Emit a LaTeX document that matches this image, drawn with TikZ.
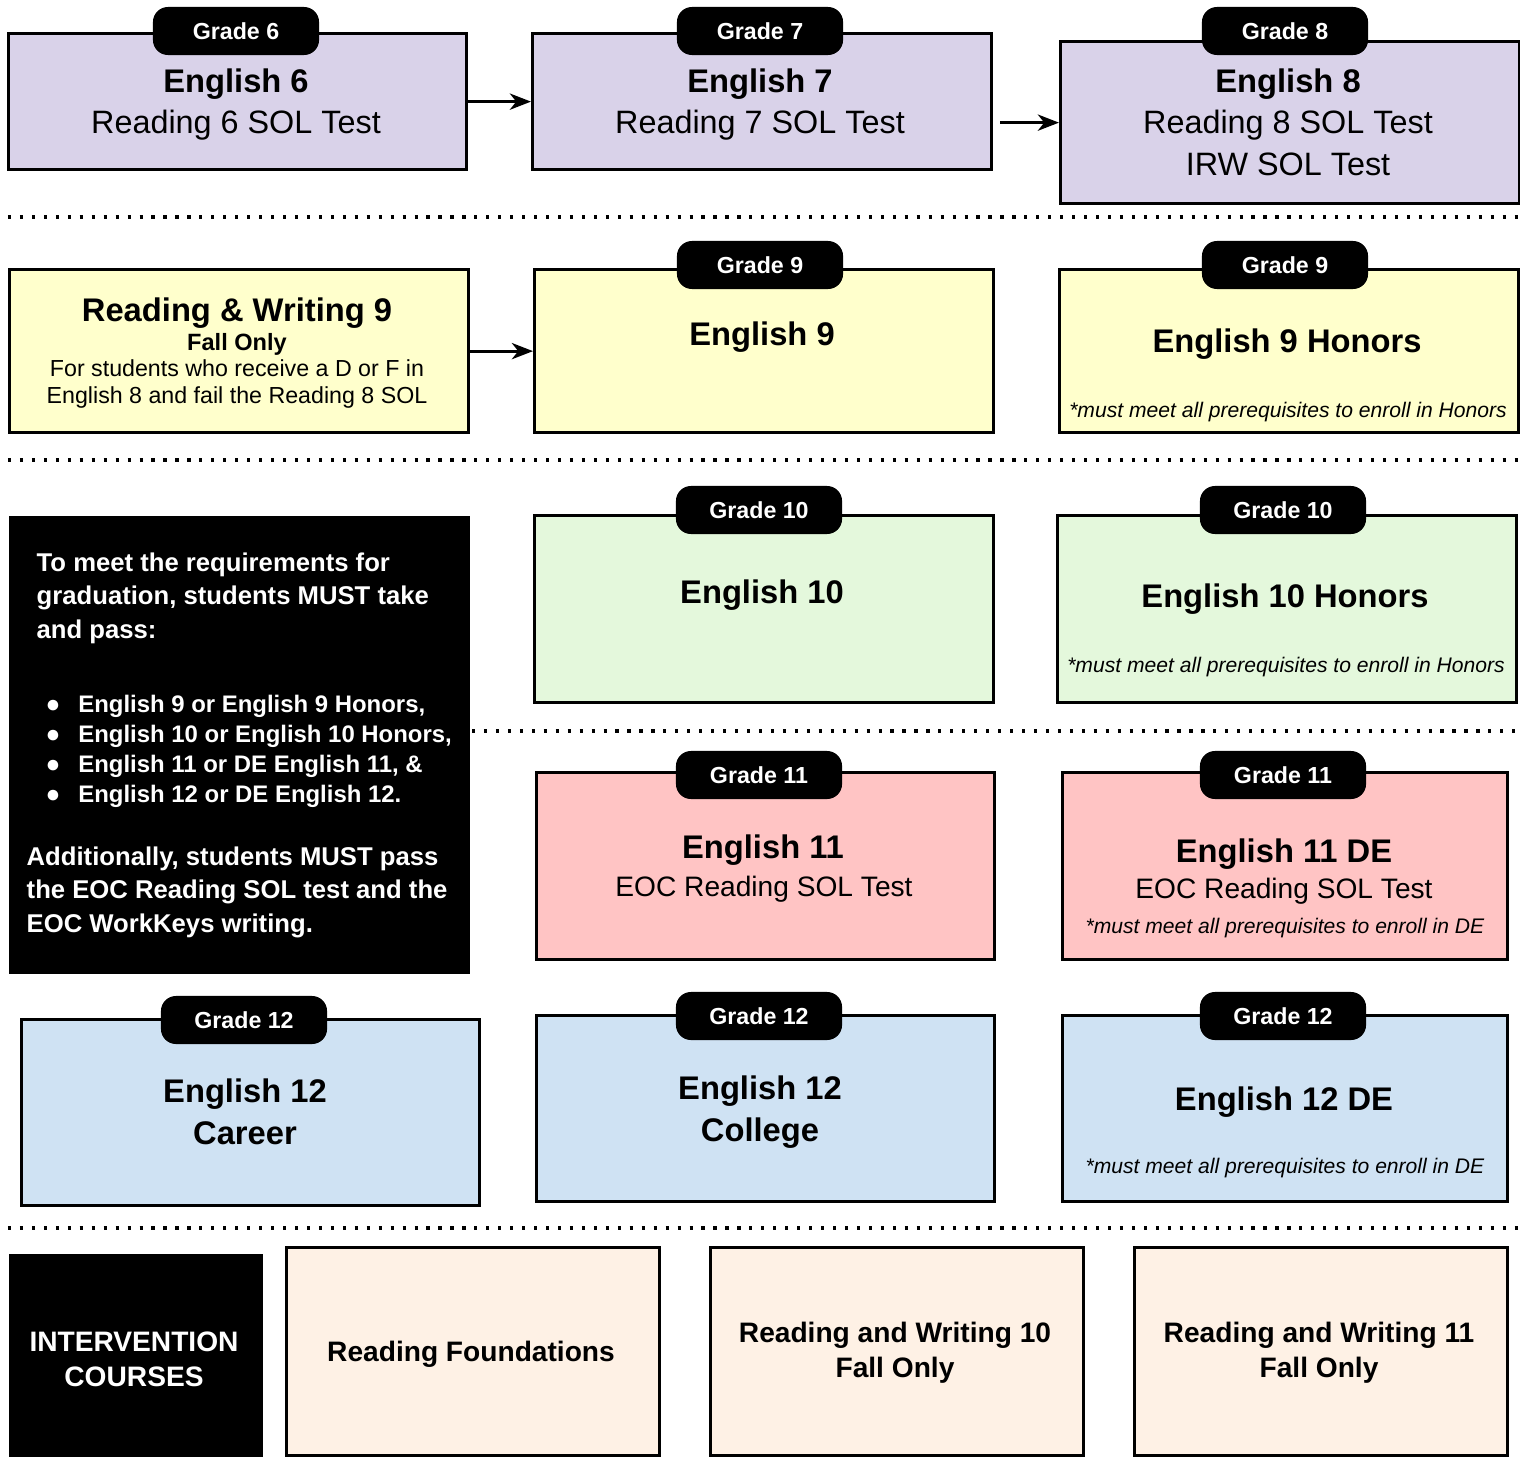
\documentclass[tikz,border=0pt]{standalone}
\usepackage{fontspec}
\setmainfont{Liberation Sans}
\usepackage{tikz}
\usetikzlibrary{positioning,arrows,arrows.meta}
\tikzset{>={Stealth[length=6pt,width=4.6pt,inset=1.8pt]}}

\definecolor{lav}{HTML}{D9D2E9}
\definecolor{yel}{HTML}{FFFFCC}
\definecolor{grn}{HTML}{E4F8DC}
\definecolor{pnk}{HTML}{FFC4C4}
\definecolor{blu}{HTML}{CFE2F3}
\definecolor{crm}{HTML}{FEF1E5}

\begin{document}
\begin{tikzpicture}[x=0.01cm,y=-0.01cm,
  course/.style={draw,line width=0.9pt,anchor=north west,inner sep=0pt},
  grade/.style={fill=black,text=white,rounded corners=1.5mm,minimum width=1.66cm,minimum height=0.48cm,inner sep=0pt,font=\fontsize{6.6}{8}\selectfont\bfseries},
  ttl/.style={anchor=base,align=center,font=\fontsize{9.3}{11.7}\selectfont\bfseries},
  sub/.style={anchor=base,align=center,font=\fontsize{9.2}{11.7}\selectfont},
  eoc/.style={anchor=base,font=\fontsize{8}{10}\selectfont},
  note/.style={anchor=base,font=\fontsize{6}{7}\selectfont\itshape},
  small/.style={anchor=base,align=center,font=\fontsize{6.6}{7.6}\selectfont},
  req/.style={anchor=base west,align=left,inner sep=0pt,text=white,font=\fontsize{7.3}{9.5}\selectfont\bfseries},
  interv/.style={anchor=base,align=center,font=\fontsize{8}{9.8}\selectfont\bfseries},
  sep/.style={line width=1pt,dash pattern=on 0.9pt off 2.5pt},
  arr/.style={->,line width=0.9pt}]
  \useasboundingbox (0,0) rectangle (1520,1457);

  % grades 6 - 8
  \node[course,fill=lav,minimum width=4.58cm,minimum height=1.36cm] (e6) at (7,32) {};
  \node[course,fill=lav,minimum width=4.59cm,minimum height=1.36cm] (e7) at (531,32) {};
  \node[course,fill=lav,minimum width=4.59cm,minimum height=1.62cm] (e8) at (1059,40) {};
  \node[grade] (g6) at (236,31) {Grade 6};
  \node[grade] (g7) at (760,31) {Grade 7};
  \node[grade] (g8) at (1285,31) {Grade 8};
  \node[ttl] (e6a) at (236,92) {English 6};
  \node[sub] (e6b) at (236,133) {Reading 6 SOL Test};
  \node[ttl] (e7a) at (760,92) {English 7};
  \node[sub] (e7b) at (760,133) {Reading 7 SOL Test};
  \node[ttl] (e8a) at (1288,92) {English 8};
  \node[sub] (e8b) at (1288,175) {Reading 8 SOL Test\\IRW SOL Test};
  \draw[arr] (e6) -- (e7);
  \draw[arr] ([xshift=2pt]e7.east |- e8.west) -- (e8.west);

  \draw[sep] (8,217) -- (1520,217);

  % grade 9
  \node[course,fill=yel,minimum width=4.59cm,minimum height=1.63cm] (rw9) at (8,268) {};
  \node[course,fill=yel,minimum width=4.59cm,minimum height=1.63cm] (e9) at (533,268) {};
  \node[course,fill=yel,minimum width=4.59cm,minimum height=1.63cm] (e9h) at (1058,268) {};
  \node[grade] (g9) at (760,265) {Grade 9};
  \node[grade] (g9h) at (1285,265) {Grade 9};
  \node[ttl] (rw9a) at (237,321) {Reading \& Writing 9};
  \node[small,font=\fontsize{6.7}{7.6}\selectfont\bfseries] (rw9b) at (237,350) {Fall Only};
  \node[small] (rw9c) at (237,403) {For students who receive a D or F in\\English 8 and fail the Reading 8 SOL};
  \node[ttl] (e9a) at (762,345) {English 9};
  \node[ttl] (e9ha) at (1287,352) {English 9 Honors};
  \node[note] (e9hb) at (1288,417) {*must meet all prerequisites to enroll in Honors};
  \draw[arr] (rw9) -- (e9);

  \draw[sep] (8,460) -- (1520,460);

  % graduation requirements
  \node[course,fill=black,minimum width=4.58cm,minimum height=4.55cm] (reqbox) at (9,516) {};
  \node[req] (req1) at (36,638) {To meet the requirements for\\graduation, students MUST take\\and pass:};
  \node[req,font=\fontsize{6.8}{8.5}\selectfont\bfseries] (req2) at (45,802) {%
    \makebox[9.3pt][l]{\fontsize{7}{5}\selectfont ●}English 9 or English 9 Honors,\\
    \makebox[9.3pt][l]{\fontsize{7}{5}\selectfont ●}English 10 or English 10 Honors,\\
    \makebox[9.3pt][l]{\fontsize{7}{5}\selectfont ●}English 11 or DE English 11, \&\\
    \makebox[9.3pt][l]{\fontsize{7}{5}\selectfont ●}English 12 or DE English 12.};
  \node[req] (req3) at (26,932) {Additionally, students MUST pass\\the EOC Reading SOL test and the\\EOC WorkKeys writing.};

  % grade 10
  \node[course,fill=grn,minimum width=4.59cm,minimum height=1.87cm] (e10) at (533,514) {};
  \node[course,fill=grn,minimum width=4.59cm,minimum height=1.87cm] (e10h) at (1056,514) {};
  \node[grade] (g10) at (759,510) {Grade 10};
  \node[grade] (g10h) at (1283,510) {Grade 10};
  \node[ttl] (e10a) at (762,603) {English 10};
  \node[ttl] (e10ha) at (1285,607) {English 10 Honors};
  \node[note] (e10hb) at (1286,672) {*must meet all prerequisites to enroll in Honors};

  \draw[sep] (472,731) -- (1520,731);

  % grade 11
  \node[course,fill=pnk,minimum width=4.58cm,minimum height=1.87cm] (e11) at (535,771) {};
  \node[course,fill=pnk,minimum width=4.45cm,minimum height=1.87cm] (e11de) at (1061,771) {};
  \node[grade] (g11) at (759,775) {Grade 11};
  \node[grade] (g11de) at (1283,775) {Grade 11};
  \node[ttl] (e11a) at (763,858) {English 11};
  \node[eoc] (e11b) at (764,896) {EOC Reading SOL Test};
  \node[ttl] (e11dea) at (1284,862) {English 11 DE};
  \node[eoc] (e11deb) at (1284,898) {EOC Reading SOL Test};
  \node[note] (e11dec) at (1285,933) {*must meet all prerequisites to enroll in DE};

  % grade 12
  \node[course,fill=blu,minimum width=4.58cm,minimum height=1.86cm] (e12a) at (20,1018) {};
  \node[course,fill=blu,minimum width=4.58cm,minimum height=1.86cm] (e12b) at (535,1014) {};
  \node[course,fill=blu,minimum width=4.45cm,minimum height=1.86cm] (e12de) at (1061,1014) {};
  \node[grade] (g12a) at (244,1020) {Grade 12};
  \node[grade] (g12b) at (759,1016) {Grade 12};
  \node[grade] (g12de) at (1283,1016) {Grade 12};
  \node[ttl] (e12aa) at (245,1144) {English 12\\Career};
  \node[ttl] (e12ba) at (760,1141) {English 12\\College};
  \node[ttl] (e12dea) at (1284,1110) {English 12 DE};
  \node[note] (e12deb) at (1285,1173) {*must meet all prerequisites to enroll in DE};

  \draw[sep] (8,1228) -- (1520,1228);

  % intervention courses
  \node[course,fill=black,minimum width=2.51cm,minimum height=2.05cm] (intbox) at (9,1254) {};
  \node[interv,text=white] (int) at (134,1386) {INTERVENTION\\COURSES};
  \node[course,fill=crm,minimum width=3.73cm,minimum height=2.08cm] (rf) at (285,1246) {};
  \node[course,fill=crm,minimum width=3.73cm,minimum height=2.08cm] (rw10) at (709,1246) {};
  \node[course,fill=crm,minimum width=3.73cm,minimum height=2.08cm] (rw11) at (1133,1246) {};
  \node[interv] (rfa) at (471,1361) {Reading Foundations};
  \node[interv] (rw10a) at (895,1377) {Reading and Writing 10\\Fall Only};
  \node[interv] (rw11a) at (1319,1377) {Reading and Writing 11\\Fall Only};
\end{tikzpicture}
\end{document}
